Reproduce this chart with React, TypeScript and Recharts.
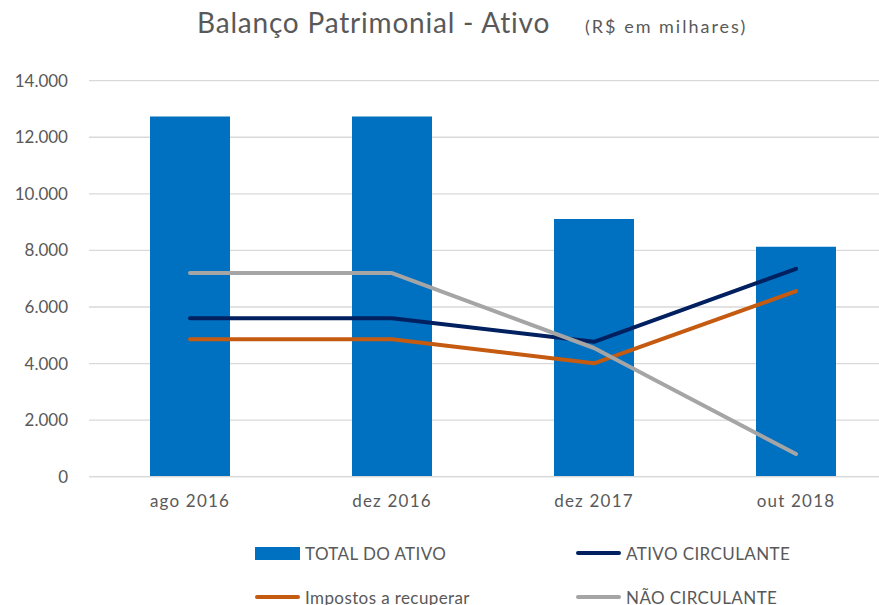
import React from "react";
import {
  ComposedChart,
  Bar,
  Line,
  XAxis,
  YAxis,
  CartesianGrid,
} from "recharts";

// Values (R$ thousands)
const categories = ["ago 2016", "dez 2016", "dez 2017", "out 2018"];
const totalAtivo = [12730, 12730, 9110, 8130];
const ativoCirculante = [5600, 5600, 4770, 7350];
const impostosRecuperar = [4860, 4860, 4010, 6560];
const naoCirculante = [7200, 7200, 4550, 800];
const yTicks = [0, 2000, 4000, 6000, 8000, 10000, 12000, 14000];

const data = categories.map((name, i) => ({
  name,
  total: totalAtivo[i],
  circulante: ativoCirculante[i],
  impostos: impostosRecuperar[i],
  naoCirculante: naoCirculante[i],
}));

const FONT = "Lato, 'Open Sans', sans-serif";
const TEXT = "#595959";

const fmt = (v: number) => v.toLocaleString("de-DE");

interface LegendItemProps {
  color: string;
  label: string;
  kind: "rect" | "line";
  left: number;
  top: number;
}

// Legend entry drawn by hand, Excel style
const LegendItem: React.FC<LegendItemProps> = ({ color, label, kind, left, top }) => (
  <div
    style={{
      position: "absolute",
      left,
      top: top - 12,
      height: 24,
      display: "flex",
      alignItems: "center",
      gap: 5,
      fontSize: 17,
      letterSpacing: 0.4,
      color: TEXT,
      whiteSpace: "nowrap",
    }}
  >
    {kind === "rect" ? (
      <span style={{ width: 45, height: 13, background: color, display: "inline-block" }} />
    ) : (
      <span
        style={{ width: 45, height: 4, borderRadius: 2, background: color, display: "inline-block" }}
      />
    )}
    <span>{label}</span>
  </div>
);

export default function App() {
  return (
    <div
      style={{
        position: "absolute",
        left: 0,
        top: 0,
        width: 879,
        height: 605,
        overflow: "hidden",
        background: "#fff",
        fontFamily: FONT,
      }}
    >
      <div
        style={{
          position: "absolute",
          left: 197,
          top: 5,
          fontSize: 28,
          letterSpacing: 0.8,
          color: TEXT,
          whiteSpace: "nowrap",
        }}
      >
        Balanço Patrimonial - Ativo
      </div>
      <div
        style={{
          position: "absolute",
          left: 585,
          top: 15,
          fontSize: 18,
          letterSpacing: 2,
          color: TEXT,
          whiteSpace: "nowrap",
        }}
      >
        (R$ em milhares)
      </div>

      <ComposedChart
        width={900}
        height={605}
        data={data}
        margin={{ top: 80.7, right: 3, bottom: 98.3, left: 0 }}
        barCategoryGap="30%"
        style={{ fontFamily: FONT }}
      >
        <CartesianGrid vertical={false} stroke="#D9D9D9" strokeWidth={1.3} />
        <XAxis
          dataKey="name"
          height={30}
          tickLine={false}
          axisLine={{ stroke: "#D9D9D9", strokeWidth: 1.3 }}
          tickSize={0}
          tickMargin={18}
          tick={{ fill: TEXT, fontSize: 17, letterSpacing: 1.2 }}
        />
        <YAxis
          width={89}
          domain={[0, 14000]}
          ticks={yTicks}
          tickFormatter={fmt}
          tickLine={false}
          axisLine={false}
          tickSize={0}
          tickMargin={21}
          tick={{ fill: TEXT, fontSize: 17 }}
        />
        <Bar dataKey="total" fill="#0070C0" barSize={80} isAnimationActive={false} />
        <Line
          type="linear"
          dataKey="impostos"
          stroke="#C55A11"
          strokeWidth={4}
          strokeLinecap="round"
          strokeLinejoin="round"
          dot={false}
          activeDot={false}
          isAnimationActive={false}
        />
        <Line
          type="linear"
          dataKey="circulante"
          stroke="#002060"
          strokeWidth={4}
          strokeLinecap="round"
          strokeLinejoin="round"
          dot={false}
          activeDot={false}
          isAnimationActive={false}
        />
        <Line
          type="linear"
          dataKey="naoCirculante"
          stroke="#A5A5A5"
          strokeWidth={4}
          strokeLinecap="round"
          strokeLinejoin="round"
          dot={false}
          activeDot={false}
          isAnimationActive={false}
        />
      </ComposedChart>

      <LegendItem color="#0070C0" label="TOTAL DO ATIVO" kind="rect" left={255} top={553} />
      <LegendItem color="#002060" label="ATIVO CIRCULANTE" kind="line" left={576} top={553} />
      <LegendItem color="#C55A11" label="Impostos a recuperar" kind="line" left={255} top={597} />
      <LegendItem color="#A5A5A5" label="NÃO CIRCULANTE" kind="line" left={576} top={597} />
    </div>
  );
}
